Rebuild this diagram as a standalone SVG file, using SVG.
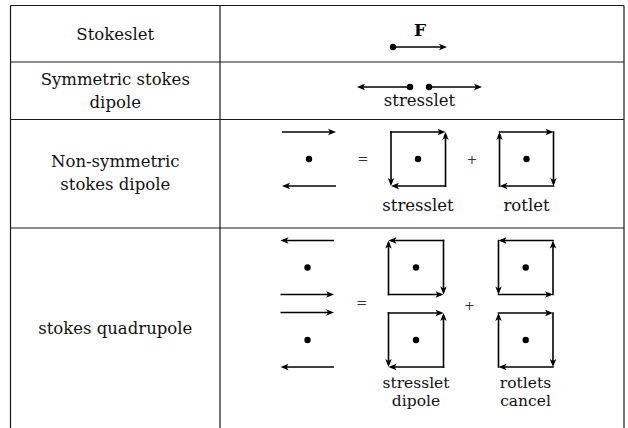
<svg xmlns="http://www.w3.org/2000/svg" width="628" height="428" viewBox="0 0 628 428">
<style>
.grid{stroke:#1a1a1a;stroke-width:1.2;fill:none}
.lbl{font-size:16.5px;fill:#111;text-anchor:middle}
.sm{font-size:15.5px;fill:#111;text-anchor:middle}
.op{font-size:13px;fill:#333;text-anchor:middle}
.bold{font-size:17px;font-weight:bold;fill:#000;text-anchor:middle}
.ar{stroke:#000;stroke-width:1.6;fill:none;marker-end:url(#ah)}
.bx{stroke:#000;stroke-width:1.6;fill:none;stroke-linecap:square;marker-end:url(#ah)}
.dot{fill:#000}
</style>
<defs>
<marker id="ah" markerUnits="userSpaceOnUse" markerWidth="14" markerHeight="14" viewBox="-7 -7 14 14" refX="0" refY="0" orient="auto" overflow="visible">
<path d="M3,0 L-5,-3.2 L-3,0 L-5,3.2 Z" fill="#000"/>
</marker>
</defs>

<g id="table">
<path class="grid" d="M10.5,5.5 H624 M10.5,62 H624 M10.5,119.5 H624 M10.5,228 H624 M10.5,5.5 V428 M220,5.5 V428 M624,5.5 V428"/>
</g>

<g font-family="'DejaVu Serif', 'Liberation Serif', serif">
<g id="labels">
<text class="lbl" x="115.25" y="40">Stokeslet</text>
<text class="lbl" x="115.25" y="85">Symmetric stokes</text>
<text class="lbl" x="115.25" y="107.5">dipole</text>
<text class="lbl" x="115.25" y="167">Non-symmetric</text>
<text class="lbl" x="115.25" y="190">stokes dipole</text>
<text class="lbl" x="115.25" y="334">stokes quadrupole</text>
</g>

<g id="stokeslet">
<text class="bold" x="420" y="36">F</text>
<circle class="dot" cx="393" cy="47" r="3.2"/>
<path class="ar" d="M393,47 H444"/>
</g>

<g id="symmetric-dipole">
<circle class="dot" cx="410" cy="87" r="3.2"/>
<circle class="dot" cx="429" cy="87" r="3.2"/>
<path class="ar" d="M410,87 H360"/>
<path class="ar" d="M429,87 H479"/>
<text class="lbl" x="419.5" y="106">stresslet</text>
</g>

<g id="nonsymmetric-dipole">
<path class="ar" d="M282,132 H333"/>
<circle class="dot" cx="309" cy="159" r="3.2"/>
<path class="ar" d="M336,186 H285"/>
<text class="op" x="363" y="162.5">=</text>
<g id="stresslet-box">
<path class="bx" d="M391,132 H442.5"/>
<path class="bx" d="M445.5,186 V135"/>
<path class="bx" d="M445.5,186 H394"/>
<path class="bx" d="M391,132 V183"/>
<circle class="dot" cx="418" cy="159" r="3.2"/>
</g>
<text class="op" x="472" y="163.5">+</text>
<g id="rotlet-box">
<path class="bx" d="M499.5,132 H550.5"/>
<path class="bx" d="M553.5,132 V183"/>
<path class="bx" d="M553.5,186 H502.5"/>
<path class="bx" d="M499.5,186 V135"/>
<circle class="dot" cx="526.5" cy="159" r="3.2"/>
</g>
<text class="lbl" x="418" y="211">stresslet</text>
<text class="lbl" x="526.5" y="211">rotlet</text>
</g>

<g id="quadrupole">
<path class="ar" d="M334,240.5 H283.5"/>
<circle class="dot" cx="307.5" cy="267.5" r="3.2"/>
<path class="ar" d="M280.5,294.5 H331"/>
<path class="ar" d="M280.5,312.5 H331"/>
<circle class="dot" cx="307.5" cy="340" r="3.2"/>
<path class="ar" d="M334,367 H283.5"/>
<text class="op" x="361.7" y="307">=</text>
<g id="box-tl">
<path class="bx" d="M443.5,240.5 H391.5"/>
<path class="bx" d="M388.5,294.5 V243.5"/>
<path class="bx" d="M443.5,240.5 V291.5"/>
<path class="bx" d="M388.5,294.5 H440.5"/>
<circle class="dot" cx="416" cy="267.5" r="3.2"/>
</g>
<g id="box-bl">
<path class="bx" d="M388.5,313 H440.5"/>
<path class="bx" d="M443.5,367 V316"/>
<path class="bx" d="M443.5,367 H391.5"/>
<path class="bx" d="M388.5,313 V364"/>
<circle class="dot" cx="416" cy="340" r="3.2"/>
</g>
<text class="op" x="469.5" y="309.5">+</text>
<g id="box-tr">
<path class="bx" d="M553,240.5 H501.5"/>
<path class="bx" d="M498.5,240.5 V291.5"/>
<path class="bx" d="M498.5,294.5 H550"/>
<path class="bx" d="M553,294.5 V243.5"/>
<circle class="dot" cx="525.7" cy="267.5" r="3.2"/>
</g>
<g id="box-br">
<path class="bx" d="M498.5,313 H550"/>
<path class="bx" d="M553,313 V364"/>
<path class="bx" d="M553,367 H501.5"/>
<path class="bx" d="M498.5,367 V316"/>
<circle class="dot" cx="525.7" cy="340" r="3.2"/>
</g>
<text class="sm" x="416" y="388">stresslet</text>
<text class="sm" x="416" y="406">dipole</text>
<text class="sm" x="525.5" y="388">rotlets</text>
<text class="sm" x="525.5" y="406">cancel</text>
</g>
</g>
</svg>
